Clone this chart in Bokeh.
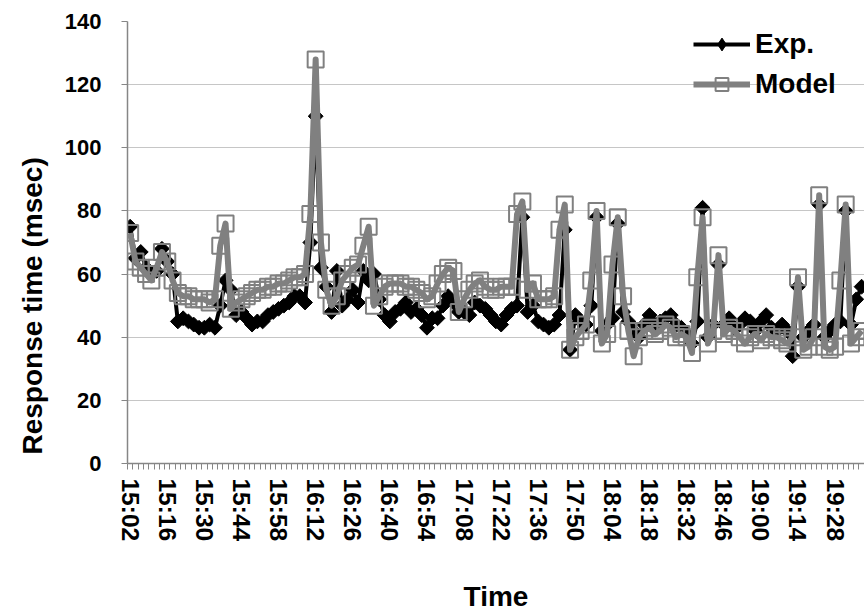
import numpy as np
import pandas as pd
from bokeh.plotting import figure
from bokeh.models import Range1d, FixedTicker, Legend, LegendItem, ColumnDataSource, Title
from bokeh.embed import file_html
from bokeh.resources import INLINE

# Measured response times (msec), one sample every 2 minutes from 15:02
exp_ms = [
    75, 65, 67, 62, 60, 61, 68, 64, 60, 45,
    46, 45, 44, 43, 43, 44, 43, 50, 58, 55,
    47, 48, 46, 44, 45, 45, 47, 48, 49, 50,
    51, 53, 53, 51, 70, 110, 62, 56, 48, 61,
    50, 52, 55, 51, 61, 58, 60, 52, 47, 45,
    48, 49, 51, 48, 49, 47, 43, 46, 46, 50,
    53, 51, 48, 48, 47, 51, 50, 49, 47, 45,
    44, 47, 49, 50, 78, 48, 50, 45, 44, 43,
    44, 47, 74, 36, 47, 45, 44, 50, 78, 42,
    44, 46, 76, 48, 45, 42, 40, 44, 47, 44,
    45, 46, 47, 44, 43, 41, 38, 45, 81, 40,
    44, 63, 44, 46, 43, 44, 46, 45, 42, 45,
    47, 43, 42, 44, 42, 34, 56, 40, 42, 44,
    82, 40, 42, 44, 45, 80, 44, 52, 56,
]

# Model prediction for the same samples
model_ms = [
    73, 64, 62, 60, 58, 62, 67, 64, 58, 54,
    53, 53, 52, 52, 52, 51, 52, 69, 76, 49,
    51, 52, 53, 54, 55, 55, 56, 56, 57, 57,
    58, 59, 59, 60, 79, 128, 70, 55, 50, 53,
    58, 60, 62, 63, 69, 75, 50, 53, 56, 57,
    57, 57, 56, 56, 55, 54, 52, 53, 57, 60,
    62, 61, 48, 52, 55, 57, 58, 56, 55, 55,
    56, 56, 56, 79, 83, 55, 57, 52, 52, 52,
    53, 74, 82, 36, 40, 42, 44, 58, 80, 38,
    41, 63, 78, 53, 42, 34, 40, 42, 43, 41,
    42, 44, 43, 40, 41, 40, 35, 59, 78, 38,
    42, 66, 41, 43, 42, 40, 38, 40, 41, 39,
    41, 40, 40, 39, 38, 40, 59, 36, 37, 40,
    85, 37, 36, 37, 58, 82, 38, 40, 42,
]

# Time axis: 2-minute steps, a label every 14 minutes
times = pd.date_range("2000-01-01 15:02", periods=len(exp_ms), freq="2min").strftime("%H:%M").tolist()
label_every = 7
y_ticks = [0, 20, 40, 60, 80, 100, 120, 140]

idx = list(range(len(exp_ms)))
src = ColumnDataSource(dict(i=idx, exp=exp_ms, model=model_ms, t=times))

FONT = "Liberation Sans"
AXIS_GREY = "#868686"
MODEL_GREY = "#808080"

p = figure(
    frame_width=737, frame_height=442,
    min_border_left=127, min_border_right=0, min_border_top=21, min_border_bottom=148,
    x_range=Range1d(-0.5, len(exp_ms) - 0.45),
    y_range=Range1d(0, 140),
    output_backend="svg", toolbar_location=None,
    background_fill_color="white", border_fill_color="white",
)
p.outline_line_color = None

# Experimental series (drawn first, underneath)
exp_line = p.line("i", "exp", source=src, line_color="black", line_width=4, line_join="round")
p.scatter("i", "exp", source=src, marker="square", angle=np.pi / 4, size=10.5,
          fill_color="black", line_color="black")

# Model series on top
model_line = p.line("i", "model", source=src, line_color=MODEL_GREY, line_width=6, line_join="round")
model_pts = p.scatter("i", "model", source=src, marker="square", size=16,
                      fill_alpha=0, line_color=MODEL_GREY, line_width=2)

# Hidden diamond renderer: only supplies the legend swatch of the measured series
exp_key = p.scatter("i", "exp", source=src, marker="diamond", size=16,
                    fill_color="black", line_color="black", visible=False)

# Y axis
p.yaxis.ticker = FixedTicker(ticks=y_ticks)
p.yaxis.axis_line_color = AXIS_GREY
p.yaxis.axis_line_width = 1.5
p.yaxis.major_tick_line_color = AXIS_GREY
p.yaxis.major_tick_out = 6
p.yaxis.major_tick_in = 0
p.yaxis.minor_tick_line_color = None
p.yaxis.major_label_text_font = FONT
p.yaxis.major_label_text_font_style = "bold"
p.yaxis.major_label_text_font_size = "22px"
p.yaxis.major_label_text_color = "black"
p.yaxis.major_label_standoff = 20

# X axis: tick marks between every sample, a label every 14 minutes
p.xaxis.ticker = FixedTicker(ticks=idx[::label_every], minor_ticks=[k - 0.5 for k in range(len(idx) + 1)])
p.xaxis.major_label_overrides = {k: times[k] for k in idx[::label_every]}
p.xaxis.major_label_orientation = "vertical"
p.xaxis.axis_line_color = AXIS_GREY
p.xaxis.axis_line_width = 1.5
p.xaxis.major_tick_line_color = None
p.xaxis.major_tick_out = 6
p.xaxis.minor_tick_line_color = AXIS_GREY
p.xaxis.minor_tick_out = 6
p.xaxis.minor_tick_in = 0
p.xaxis.major_label_text_font = FONT
p.xaxis.major_label_text_font_style = "bold"
p.xaxis.major_label_text_font_size = "24.5px"
p.xaxis.major_label_text_color = "black"
p.xaxis.major_label_standoff = 9
p.xaxis.axis_label = "Time"
p.xaxis.axis_label_text_font = FONT
p.xaxis.axis_label_text_font_style = "bold"
p.xaxis.axis_label_text_font_size = "28px"
p.xaxis.axis_label_text_color = "black"
p.xaxis.axis_label_standoff = 37

p.xgrid.grid_line_color = None
p.ygrid.grid_line_color = "#c6c6c6"
p.ygrid.grid_line_width = 1

# Vertical axis title, anchored near the bottom of the plot area
p.add_layout(Title(text="Response time (msec)", text_font=FONT, text_font_style="bold",
                   text_font_size="28px", text_color="black", align="left",
                   offset=9, standoff=27), "left")

legend = Legend(
    items=[
        LegendItem(label="Exp.", renderers=[exp_line, exp_key]),
        LegendItem(label="Model", renderers=[model_line, model_pts]),
    ],
    location=(566, 363),
    orientation="vertical",
    background_fill_alpha=0,
    border_line_color=None,
    padding=0, margin=0, spacing=8,
    glyph_width=57, glyph_height=32, label_standoff=5,
    label_text_font=FONT, label_text_font_style="bold",
    label_text_font_size="28px", label_text_color="black",
)
p.add_layout(legend)

open("out.html", "w").write(file_html(p, INLINE))
